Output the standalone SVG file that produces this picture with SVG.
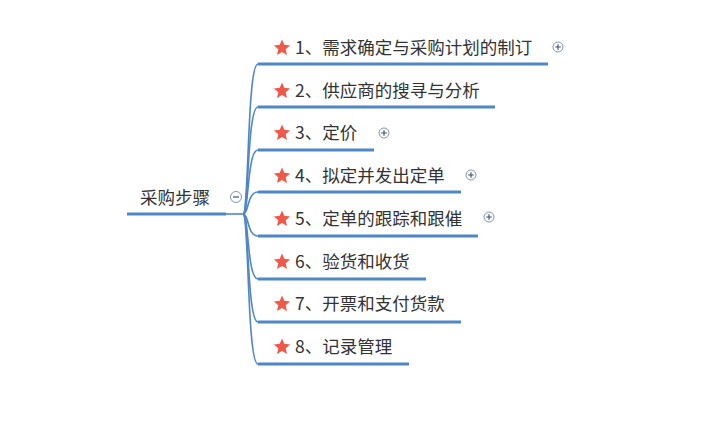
<svg xmlns="http://www.w3.org/2000/svg" width="716" height="448" viewBox="0 0 716 448">
<style>
.txt{font-family:"Noto Sans CJK SC","Microsoft YaHei",sans-serif;font-size:17.5px;fill:#333}
.ul{stroke:#4F86C6;stroke-width:3;fill:none;stroke-linecap:butt}
.br{stroke:#4F86C6;stroke-width:1.6;fill:none}
.tg{fill:#fff;stroke:#8094b4;stroke-width:1}
.tgl{stroke:#44536b;stroke-width:1.2}
.star{fill:#F0584A}
</style>
<defs>
<polygon id="star" points="0,-8.5 2.3,-3.2 8.1,-2.6 3.7,1.2 5,6.9 0,3.9 -5,6.9 -3.7,1.2 -8.1,-2.6 -2.3,-3.2"/>
<g id="plus"><circle class="tg" r="5"/><path class="tgl" d="M-2.8,0H2.8M0,-2.8V2.8"/></g>
</defs>
<rect width="716" height="448" fill="#fff"/>
<g id="connectors">
<path class="br" d="M225,214H243"/>
<path class="br" d="M243,214C249,214 247,64 258,64"/>
<path class="br" d="M243,214C249,214 247,107 258,107"/>
<path class="br" d="M243,214C249,214 247,150 258,150"/>
<path class="br" d="M243,214C249,214 247,192 258,192"/>
<path class="br" d="M243,214C249,214 247,236 258,236"/>
<path class="br" d="M243,214C249,214 247,279 258,279"/>
<path class="br" d="M243,214C249,214 247,322 258,322"/>
<path class="br" d="M243,214C249,214 247,364 258,364"/>
</g>
<g id="root">
<path class="ul" d="M127,214H226"/>
<text class="txt" x="140" y="204">采购步骤</text>
<circle class="tg" cx="236" cy="197" r="5.5"/>
<path class="tgl" d="M233,197H239"/>
</g>
<g id="n1">
<path class="ul" d="M258,64H548"/>
<use href="#star" class="star" x="282" y="48"/>
<text class="txt" x="295" y="54">1、需求确定与采购计划的制订</text>
<use href="#plus" x="558" y="47"/>
</g>
<g id="n2">
<path class="ul" d="M258,107H495"/>
<use href="#star" class="star" x="282" y="91"/>
<text class="txt" x="295" y="97">2、供应商的搜寻与分析</text>
</g>
<g id="n3">
<path class="ul" d="M258,150H374"/>
<use href="#star" class="star" x="282" y="133"/>
<text class="txt" x="295" y="139">3、定价</text>
<use href="#plus" x="384" y="133"/>
</g>
<g id="n4">
<path class="ul" d="M258,192H461"/>
<use href="#star" class="star" x="282" y="176"/>
<text class="txt" x="295" y="182">4、拟定并发出定单</text>
<use href="#plus" x="471" y="175"/>
</g>
<g id="n5">
<path class="ul" d="M258,236H478"/>
<use href="#star" class="star" x="282" y="219"/>
<text class="txt" x="295" y="225">5、定单的跟踪和跟催</text>
<use href="#plus" x="489" y="217"/>
</g>
<g id="n6">
<path class="ul" d="M258,279H426"/>
<use href="#star" class="star" x="282" y="262"/>
<text class="txt" x="295" y="268">6、验货和收货</text>
</g>
<g id="n7">
<path class="ul" d="M258,322H461"/>
<use href="#star" class="star" x="282" y="304"/>
<text class="txt" x="295" y="310">7、开票和支付货款</text>
</g>
<g id="n8">
<path class="ul" d="M258,364H409"/>
<use href="#star" class="star" x="282" y="347"/>
<text class="txt" x="295" y="353">8、记录管理</text>
</g>
</svg>
